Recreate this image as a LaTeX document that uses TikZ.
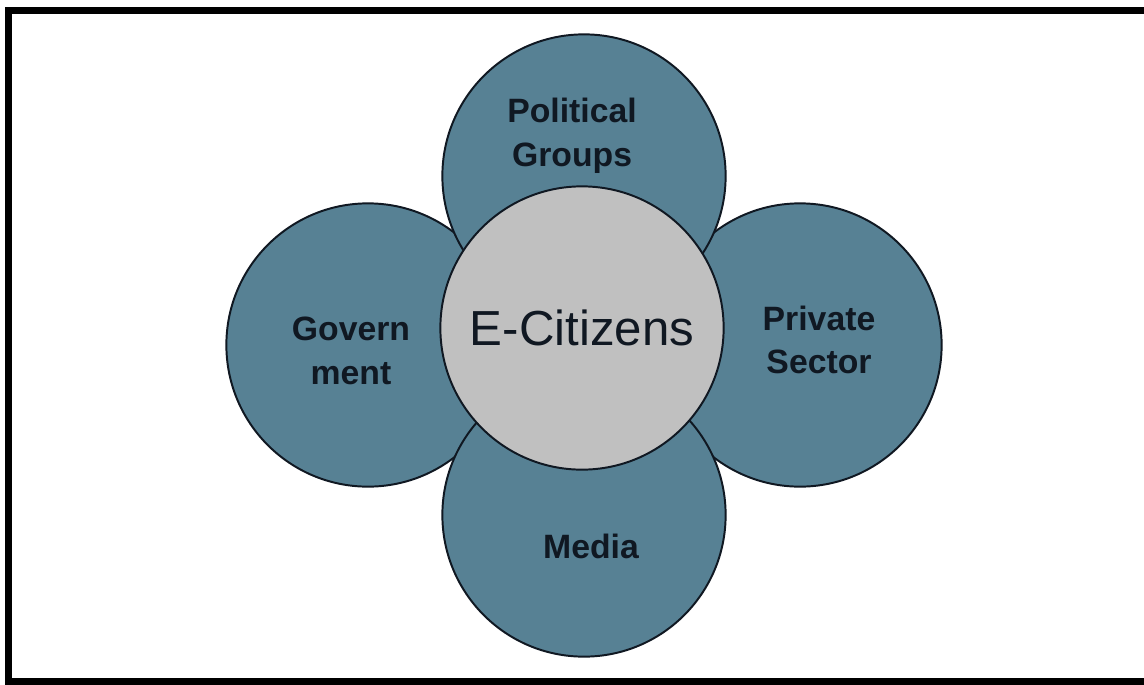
\documentclass[tikz,border=0pt]{standalone}
\usepackage{fontspec}
\setmainfont{Liberation Sans}
\usepackage{tikz}
\usetikzlibrary{calc}
\definecolor{petalcolor}{RGB}{87,129,148}
\definecolor{corecolor}{RGB}{192,192,192}
\definecolor{inkcolor}{RGB}{16,24,34}
\tikzstyle{petal} =[
    circle,
    draw=inkcolor,
    fill=petalcolor,
    line width=1.4pt,
    inner sep=0pt,
    minimum size=7.08cm
    ]
\tikzstyle{core} =[
    petal,
    fill=corecolor
    ]
\tikzstyle{petaltext} =[
    text=inkcolor,
    align=center,
    font=\fontsize{24}{31}\selectfont\bfseries
    ]
\tikzstyle{coretext} =[
    text=inkcolor,
    font=\fontsize{35}{40}\selectfont
    ]

\begin{document}
\begin{tikzpicture}[x=0.025cm,y=-0.025cm]
\useasboundingbox (0,0) rectangle (1144,684);
\fill[white] (0,0) rectangle (1144,684);
% frame
\draw[black, line width=4.3pt] (8.5,10.5) rectangle (1160,681.5);
% petals
\node[petal] (gov) at (368,345) {};
\node[petal] (priv) at (800,345) {};
\node[petal] (pol) at (584,176) {};
\node[petal] (media) at (584,515) {};
\node[core] (cit) at (582,328) {};
% labels
\node[petaltext] (polt) at (572,136) {Political\\Groups};
\node[petaltext] (govt) at (351,351) {Govern\\ment};
\node[petaltext] (privt) at (819,340) {Private\\Sector};
\node[petaltext] (mediat) at (591,546) {Media};
\node[coretext] (citt) at (582,328) {E-Citizens};
\end{tikzpicture}
\end{document}
